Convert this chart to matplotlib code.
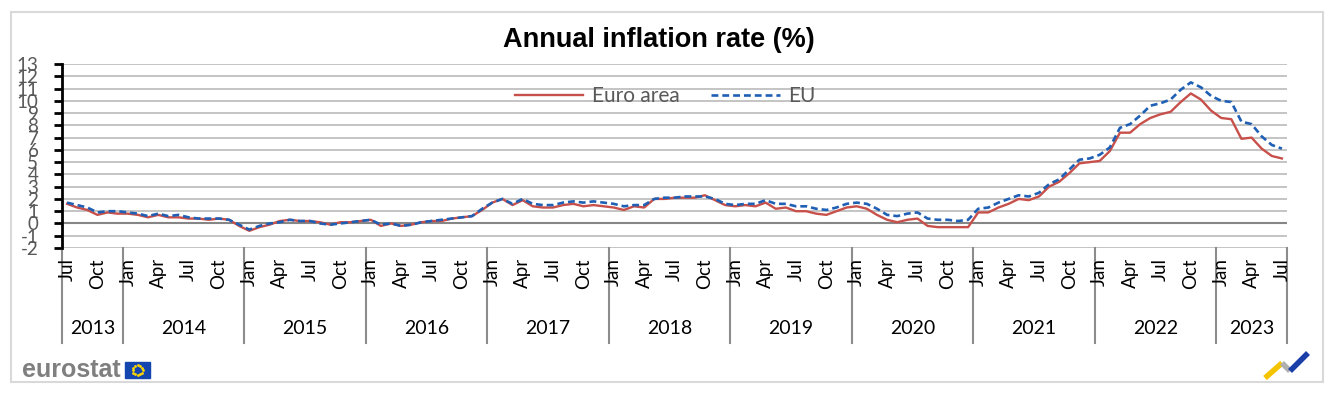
import matplotlib
matplotlib.use("Agg")
import matplotlib.pyplot as plt
from matplotlib.patches import Rectangle
from matplotlib.lines import Line2D
import numpy as np

# ---------------- data ----------------
months = ["Jan", "Feb", "Mar", "Apr", "May", "Jun", "Jul", "Aug", "Sep", "Oct", "Nov", "Dec"]
years = [2013, 2014, 2015, 2016, 2017, 2018, 2019, 2020, 2021, 2022, 2023]
start_month = 7   # Jul 2013
end_month = 7     # Jul 2023

euro_area = [
    1.6, 1.3, 1.1, 0.7, 0.9, 0.8,                                  # 2013 Jul-Dec
    0.8, 0.7, 0.5, 0.7, 0.5, 0.5, 0.4, 0.4, 0.3, 0.4, 0.3, -0.2,   # 2014
    -0.6, -0.3, -0.1, 0.2, 0.3, 0.2, 0.2, 0.1, -0.1, 0.1, 0.1, 0.2,  # 2015
    0.3, -0.2, 0.0, -0.2, -0.1, 0.1, 0.2, 0.2, 0.4, 0.5, 0.6, 1.1,   # 2016
    1.7, 2.0, 1.5, 1.9, 1.4, 1.3, 1.3, 1.5, 1.6, 1.4, 1.5, 1.4,      # 2017
    1.3, 1.1, 1.4, 1.3, 2.0, 2.0, 2.1, 2.1, 2.1, 2.3, 1.9, 1.5,      # 2018
    1.4, 1.5, 1.4, 1.7, 1.2, 1.3, 1.0, 1.0, 0.8, 0.7, 1.0, 1.3,      # 2019
    1.4, 1.2, 0.7, 0.3, 0.1, 0.3, 0.4, -0.2, -0.3, -0.3, -0.3, -0.3, # 2020
    0.9, 0.9, 1.3, 1.6, 2.0, 1.9, 2.2, 3.0, 3.4, 4.1, 4.9, 5.0,      # 2021
    5.1, 5.9, 7.4, 7.4, 8.1, 8.6, 8.9, 9.1, 9.9, 10.6, 10.1, 9.2,    # 2022
    8.6, 8.5, 6.9, 7.0, 6.1, 5.5, 5.3,                               # 2023 Jan-Jul
]
eu = [
    1.7, 1.5, 1.3, 0.9, 1.0, 1.0,
    0.9, 0.8, 0.6, 0.8, 0.6, 0.7, 0.5, 0.4, 0.4, 0.4, 0.3, -0.1,
    -0.5, -0.2, 0.0, 0.1, 0.3, 0.2, 0.2, 0.0, -0.1, 0.0, 0.1, 0.2,
    0.3, -0.1, 0.0, -0.2, -0.1, 0.1, 0.2, 0.3, 0.4, 0.5, 0.6, 1.2,
    1.7, 2.0, 1.6, 2.0, 1.6, 1.5, 1.5, 1.7, 1.8, 1.7, 1.8, 1.7,
    1.6, 1.4, 1.5, 1.5, 2.0, 2.1, 2.1, 2.2, 2.2, 2.2, 2.0, 1.6,
    1.5, 1.6, 1.6, 1.9, 1.6, 1.6, 1.4, 1.4, 1.2, 1.1, 1.3, 1.6,
    1.7, 1.6, 1.2, 0.7, 0.6, 0.8, 0.9, 0.4, 0.3, 0.3, 0.2, 0.3,
    1.2, 1.3, 1.7, 2.0, 2.3, 2.2, 2.5, 3.2, 3.6, 4.4, 5.2, 5.3,
    5.6, 6.2, 7.8, 8.1, 8.8, 9.6, 9.8, 10.1, 10.9, 11.5, 11.1, 10.4,
    10.0, 9.9, 8.3, 8.1, 7.1, 6.4, 6.1,
]
series_names = ["Euro area", "EU"]
y_ticks = list(range(-2, 14))
title = "Annual inflation rate (%)"

# build month list
labels = []
yrs = []
for y in years:
    for m in range(1, 13):
        if (y == years[0] and m < start_month) or (y == years[-1] and m > end_month):
            continue
        labels.append(months[m - 1])
        yrs.append(y)
x = np.arange(len(labels))

# ---------------- figure ----------------
W, H = 1336, 396
fig = plt.figure(figsize=(W / 100, H / 100), dpi=100)
FONT = "Lato"

def fx(px):
    return px / W

def fy(py):
    return 1 - py / H

# outer border
fig.patches.append(Rectangle((fx(11), fy(382)), fx(1323) - fx(11), fy(12) - fy(382),
                             transform=fig.transFigure, fill=False,
                             edgecolor="#d9d9d9", linewidth=1.5))

ax_l, ax_r, ax_t, ax_b = 62, 1287, 64, 248
ax = fig.add_axes([fx(ax_l), fy(ax_b), fx(ax_r) - fx(ax_l), fy(ax_t) - fy(ax_b)])

red = "#C8504B"
blue = "#1F5FB4"
ax.plot(x, euro_area, color=red, lw=1.7, label=series_names[0], zorder=3)
ax.plot(x, eu, color=blue, lw=1.9, ls=(0, (2.6, 1.5)), label=series_names[1], zorder=4)

ax.set_xlim(-0.5, len(x) - 0.5)
ax.set_ylim(-2, 13)
ax.set_yticks(y_ticks)
ax.set_yticklabels([str(t) for t in y_ticks], fontsize=13.5, color="#595959", family=FONT)
ax.tick_params(axis="y", direction="out", length=6, width=2, color="black", pad=11)
ax.set_xticks([])
for s in ["top", "right", "bottom"]:
    ax.spines[s].set_visible(False)
ax.spines["left"].set_linewidth(2)
ax.spines["left"].set_color("black")

for t in y_ticks:
    if t == 0:
        ax.axhline(t, color="#868686", lw=1.5, zorder=2)
    else:
        ax.axhline(t, color="#bfbfbf", lw=1.3, zorder=1)

# month labels
for i, lab in enumerate(labels):
    if lab in ("Jan", "Apr", "Jul", "Oct"):
        ax.text(i, -0.055, lab, transform=ax.get_xaxis_transform(), rotation=90,
                ha="center", va="top", fontsize=13.5, family=FONT, color="black")

# year separators and labels
trans = ax.get_xaxis_transform()
boundaries = [-0.5]
for i in range(1, len(yrs)):
    if yrs[i] != yrs[i - 1]:
        boundaries.append(i - 0.5)
boundaries.append(len(yrs) - 0.5)
sep_bottom = -(343 - ax_b) / (ax_b - ax_t)
for b in boundaries:
    ax.add_line(Line2D([b, b], [0, sep_bottom], transform=trans, color="#8c8c8c",
                       lw=1.5, clip_on=False))
year_y = -(328 - ax_b) / (ax_b - ax_t)
for k, y in enumerate(years):
    c = (boundaries[k] + boundaries[k + 1]) / 2
    ax.text(c, year_y, str(y), transform=trans, ha="center", va="center",
            fontsize=14, family=FONT, color="black")

# legend
leg = ax.legend(loc="center", bbox_to_anchor=(fx(665), fy(96)), bbox_transform=fig.transFigure,
                ncol=2, frameon=False, handlelength=3.3, handletextpad=0.4,
                columnspacing=1.5, prop={"family": FONT, "size": 15})
for t in leg.get_texts():
    t.set_color("#595959")

# title
fig.text(fx(659), fy(40), title, ha="center", va="center", fontsize=19.5,
         fontweight="bold", family="Liberation Sans", color="black")

# eurostat logo
fig.text(fx(22), fy(370), "eurostat", ha="left", va="center", fontsize=18,
         fontweight="bold", family="Liberation Sans", color="#7f7f7f")
fig.patches.append(Rectangle((fx(125), fy(378)), fx(150) - fx(125), fy(362) - fy(378),
                             transform=fig.transFigure, color="#1446b0"))
ang = np.linspace(0, 2 * np.pi, 12, endpoint=False)
fig.add_artist(Line2D(fx(137.5) + fx(5) * np.cos(ang), fy(370) + (5 / H) * np.sin(ang),
                      transform=fig.transFigure, ls="none", marker="o", ms=1.0,
                      color="#ffd700"))

# bottom-right logo
fig.add_artist(Line2D([fx(1265), fx(1282)], [fy(378), fy(363)], transform=fig.transFigure,
                      color="#f5c400", lw=4, solid_capstyle="butt"))
fig.add_artist(Line2D([fx(1282), fx(1290)], [fy(363), fy(371)], transform=fig.transFigure,
                      color="#b0b0b0", lw=4, solid_capstyle="butt"))
fig.add_artist(Line2D([fx(1290), fx(1308)], [fy(371), fy(353)], transform=fig.transFigure,
                      color="#1a3fa8", lw=4, solid_capstyle="butt"))

fig.savefig("out.png", dpi=100)
